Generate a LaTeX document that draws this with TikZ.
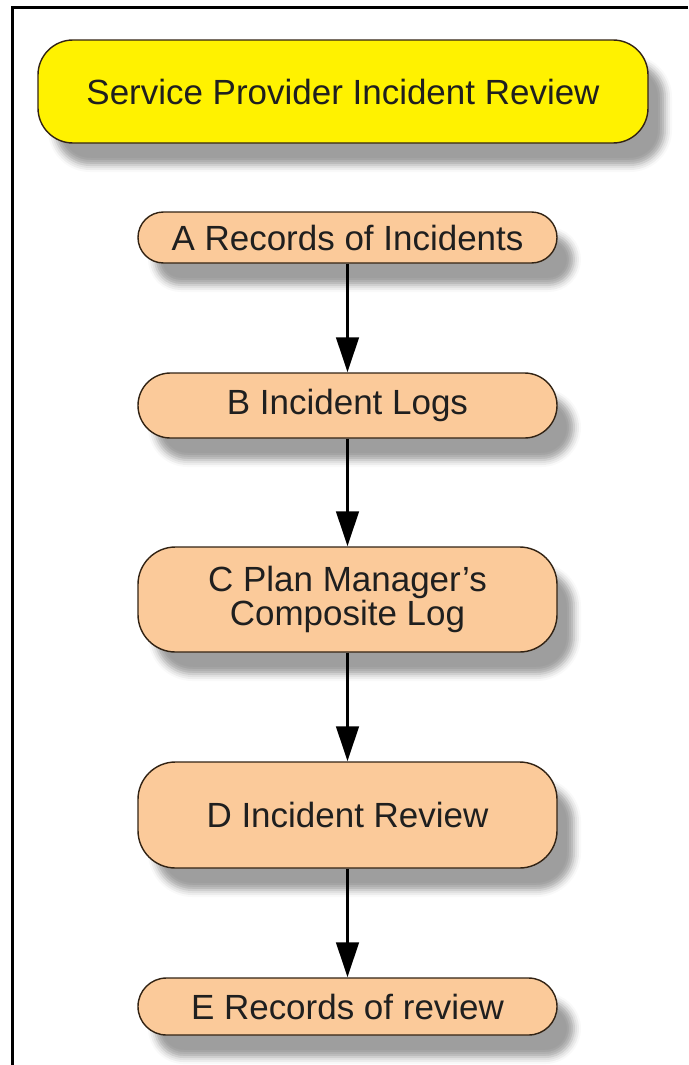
\documentclass[tikz,border=0pt]{standalone}
\usepackage{fontspec}
\setmainfont{Liberation Sans}
\usepackage{tikz}
\usetikzlibrary{shapes.geometric, arrows.meta, shadows.blur}
\definecolor{peach}{RGB}{251,202,154}
\definecolor{edgebrown}{RGB}{50,35,20}
\tikzstyle{shade} = [blur shadow={shadow xshift=0.34cm, shadow yshift=-0.44cm, shadow blur radius=0.14cm, shadow opacity=38}]
\tikzstyle{title} = [rectangle, rounded corners=0.7cm, minimum width=12.2cm, minimum height=2.06cm, text centered, draw=edgebrown, line width=0.8pt, fill=yellow, shade]
\tikzstyle{record} = [rectangle, minimum width=8.38cm, text centered, draw=edgebrown, line width=0.8pt, fill=peach, shade]
\tikzstyle{process} = [rectangle, rounded corners=0.75cm, minimum width=8.38cm, text centered, draw=edgebrown, line width=0.8pt, fill=peach, shade, align=center]
\tikzstyle{arrow} = [line width=0.06cm, -{Triangle[length=0.7cm, width=0.45cm]}]

\begin{document}
\begin{tikzpicture}[node distance=2cm, font=\fontsize{19.9}{19.5}\selectfont, text=black!88]
		\useasboundingbox (0,0) rectangle (13.76,-21.3);
		\draw [line width=0.06cm] (0.24,-21.3) -- (0.24,-0.14) -- (13.76,-0.14);

		\node [title] at (6.86,-1.83) 								(head)		{Service Provider Incident Review};
		\node [record, below of=head, node distance=2.92cm, xshift=0.09cm, minimum height=1.02cm, rounded corners=0.51cm]	(recA)	{A Records of Incidents};
		\node [record, below of=recA, node distance=3.36cm, minimum height=1.3cm, rounded corners=0.65cm]	(logB)		{B Incident Logs};
		\node [process, below of=logB, node distance=3.88cm, minimum height=2.1cm]	(logC)		{C Plan Manager’s\\Composite Log};
		\node [process, below of=logC, node distance=4.31cm, minimum height=2.12cm]	(revD)		{D Incident Review};
		\node [record, below of=revD, node distance=3.83cm, minimum height=1.14cm, rounded corners=0.57cm]	(recE)	{E Records of review};

		\draw [arrow] (recA) -- (logB);
		\draw [arrow] (logB) -- (logC);
		\draw [arrow] (logC) -- (revD);
		\draw [arrow] (revD) -- (recE);
	\end{tikzpicture}
\end{document}
